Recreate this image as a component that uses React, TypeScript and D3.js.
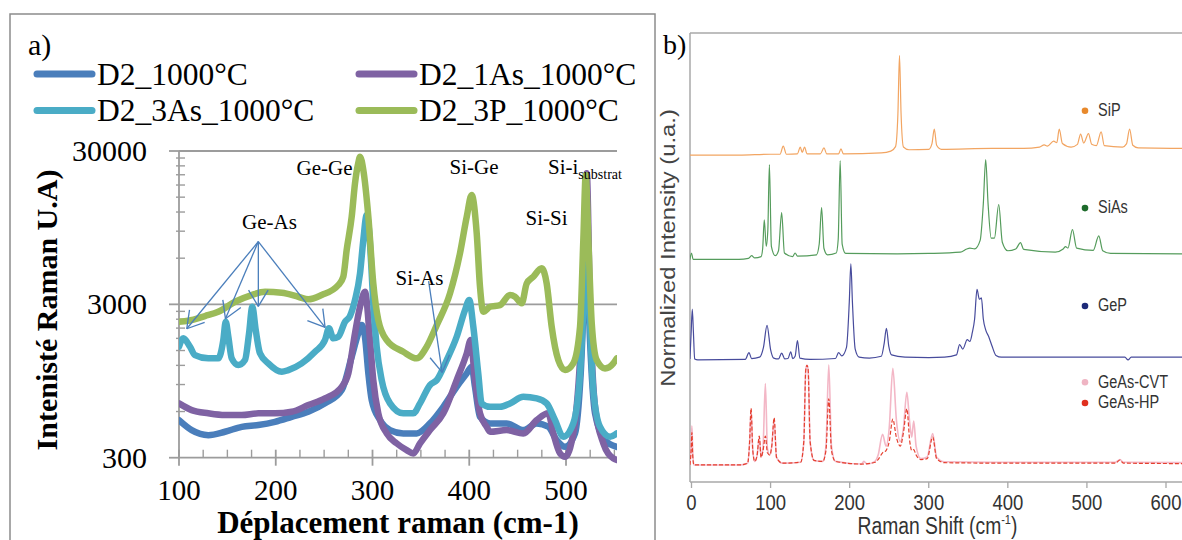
import React from "react";
import * as d3 from "d3";

const W = 1182;
const H = 540;

// ---------- Panel a data: [Raman shift (cm-1), intensity (U.A)] ----------
const seriesNamesA = ["D2_1000°C", "D2_1As_1000°C", "D2_3As_1000°C", "D2_3P_1000°C"];
const seriesColorsA = ["#4a7ebb", "#7f62a3", "#4aacc6", "#9bbb59"];

const d2_1000: [number, number][] = [
  [100, 527], [113.1, 454], [130.3, 421], [147.5, 443], [164.8, 477], [182, 490], [199.2, 514],
  [216.5, 554], [233.6, 598], [250.9, 678], [268.2, 828], [278.5, 1366], [285.3, 1941], [288.8, 2198],
  [292.2, 1844], [295.7, 1064], [299.2, 712], [307.8, 527], [318.1, 454], [331.8, 432], [345.7, 432],
  [359.4, 502], [373.2, 644], [387, 870], [397.4, 1064], [402.5, 1175], [405.9, 870], [411.1, 554],
  [421.5, 502], [438.7, 502], [455.9, 454], [469.7, 502], [481.7, 477], [490.4, 391], [499, 353],
  [509.3, 432], [515.2, 1064], [519.7, 4778], [521.4, 6790], [524.8, 1755], [530, 584], [540.3, 391],
  [552.4, 353],
];

const d2_1As: [number, number][] = [
  [100, 678], [113.1, 613], [130.3, 584], [147.5, 569], [164.8, 569], [182, 584], [199.2, 584],
  [216.5, 598], [233.6, 661], [250.9, 731], [268.2, 870], [275, 1064], [281.9, 1941], [287.1, 2893],
  [292.2, 3625], [297.4, 1755], [300.8, 962], [306, 584], [314.7, 432], [325, 372], [335.3, 336],
  [342.2, 320], [349.1, 372], [359.4, 454], [373.2, 584], [387, 962], [397.4, 1437], [401.5, 1755],
  [405.9, 962], [411.1, 584], [418, 477], [421.5, 443], [438.7, 454], [455.9, 432], [469.7, 527],
  [481.7, 584], [486.9, 432], [493.8, 320], [499, 304], [507.5, 432], [514.5, 1300], [518.6, 4778],
  [521.4, 21500], [524.8, 2893], [530, 644], [538.6, 372], [548.9, 297], [552.4, 290],
];

const d2_3As: [number, number][] = [
  [100, 1587], [104.4, 1800], [111.4, 1587], [116.5, 1401], [130.3, 1333], [140.6, 1333], [145.8, 1755],
  [148.3, 2310], [151, 1844], [154.5, 1333], [161.3, 1206], [168.2, 1300], [172.4, 1941], [175.8, 2893],
  [179.3, 2040], [183.7, 1437], [192.3, 1237], [206.2, 1090], [213, 1118], [226.8, 1237], [240.6, 1472],
  [250.9, 1755], [255, 2092], [259.5, 1800], [264.7, 1844], [271.6, 2310], [276.7, 2517], [281.9, 3200],
  [287.1, 4778], [290.5, 7880], [294, 11470], [296.5, 9000], [299, 5000], [301, 2893], [304.3, 1587],
  [309.5, 962], [318.1, 678], [331.8, 584], [342.2, 584], [349.1, 678], [359.4, 893], [366.4, 962],
  [376.7, 1300], [387, 1844], [395.6, 2754], [400, 3200], [404.2, 2143], [409.3, 1064], [412.8, 678],
  [421.5, 644], [431.8, 644], [442.1, 678], [455.9, 749], [469.7, 731], [480, 678], [488.6, 528],
  [497.2, 411], [507.5, 502], [514.5, 1064], [518.9, 3719], [521.4, 7125], [524.1, 2893], [528.2, 828],
  [535.1, 477], [545.5, 411], [552.4, 432],
];

const d2_3P: [number, number][] = [
  [100, 2310], [109.6, 2345], [126.9, 2517], [140.6, 2684], [157.9, 3119], [175.1, 3450], [188.9, 3625],
  [206.2, 3571], [223.3, 3363], [233.6, 3233], [247.5, 3450], [264.7, 4009], [269.8, 4541], [273.3, 6781],
  [278.5, 11180], [281.9, 18470], [285.3, 25050], [287.1, 27540], [290.5, 22560], [295.7, 11180],
  [300.8, 4113], [306, 2370], [314.7, 1755], [331.8, 1472], [345.7, 1333], [356, 1587], [366.4, 2198],
  [380.1, 3538], [390.4, 6454], [397.4, 11180], [402.5, 15490], [407.7, 8714], [411.1, 3908],
  [414.5, 2684], [421.5, 2893], [431.8, 2968], [442.1, 3450], [447.3, 3363], [454.2, 3045], [459.4, 4113],
  [466.2, 4541], [474.9, 5151], [480, 4113], [485.2, 2143], [492, 1300], [499, 1118], [507.5, 1237],
  [514.5, 2143], [517.9, 7880], [520.4, 20920], [523.1, 7880], [526.6, 2255], [531.7, 1300],
  [540.3, 1147], [548.9, 1237], [552.4, 1333],
];

const seriesA = [d2_1000, d2_1As, d2_3As, d2_3P];

const yMajorTicksA = [300, 3000, 30000];
const yMinorTicksA = [600, 900, 1200, 1500, 1800, 2100, 2400, 2700, 6000, 9000, 12000, 15000, 18000, 21000, 24000, 27000];
const xMajorTicksA = [100, 200, 300, 400, 500];
const xMinorTicksA = [125, 150, 175, 225, 250, 275, 325, 350, 375, 425, 450, 475, 525, 550];

// ---------- Panel b data: [Raman shift (cm-1), normalized intensity (offset)] ----------
const seriesNamesB = ["SiP", "SiAs", "GeP", "GeAs-CVT", "GeAs-HP"];
const lineColorsB = ["#f2a562", "#559c5c", "#474b9c", "#f3b7c6", "#e5402f"];
const dotColorsB = ["#e8892c", "#1d6b2b", "#1d2a78", "#efb4c3", "#e0301f"];

const siP: [number, number][] = [
  [-2, 72.8], [60, 72.8], [100, 73.0], [112, 73.0], [116, 74.8], [120, 73.0], [134, 73.1], [137.5, 74.6],
  [140, 73.4], [143, 74.6], [146, 73.1], [163, 73.1], [167.5, 74.4], [171, 73.1], [186, 73.1], [189, 74.2],
  [192, 73.1], [240, 73.3], [252, 73.7], [258, 74.7], [261, 82], [263, 95.0], [265, 82], [268, 74.6],
  [275, 74.0], [300, 74.1], [304, 75.3], [307, 78.6], [310, 75.0], [316, 74.1], [380, 74.3], [420, 74.3],
  [440, 74.6], [446, 75.1], [450, 74.8], [458, 75.9], [462, 75.6], [465, 78.6], [469, 75.4], [480, 74.6],
  [488, 75.2], [492, 77.5], [496, 75.5], [502, 77.6], [506, 75.2], [512, 74.9], [518, 78.0], [522, 74.9],
  [545, 74.6], [550, 75.3], [554, 78.6], [558, 75.0], [565, 74.4], [625, 74.3],
];

const siAs: [number, number][] = [
  [-2, 49.5], [0, 51.0], [2, 49.6], [60, 49.6], [72, 49.8], [76, 50.4], [80, 49.9], [88, 50.2], [90, 52],
  [92, 58.4], [94.5, 52.5], [96.5, 56], [98.5, 70.7], [101, 52.5], [106, 50.4], [110, 51.5], [114, 60.0],
  [117.5, 51.0], [128, 50.2], [131, 51.0], [134, 50.3], [158, 50.6], [161.5, 53], [164.5, 61.1],
  [167.5, 52], [172, 50.6], [183, 51.0], [185.5, 54], [188, 71.6], [190.5, 53], [195, 50.9], [260, 50.8],
  [300, 50.9], [340, 51.2], [348, 51.9], [352, 52.1], [358, 51.9], [365, 53.8], [369, 62], [372, 71.8],
  [375, 62], [379, 54.3], [383, 54.3], [388.5, 61.8], [393, 53.4], [400, 51.5], [410, 51.9], [416, 53.3],
  [420, 51.8], [460, 51.2], [470, 51.9], [473, 52.4], [476, 52.1], [481.7, 56.2], [487, 52.1], [508, 51.6],
  [515, 54.8], [520, 51.5], [530, 50.9], [625, 50.8],
];

const geP: [number, number][] = [
  [-2, 27.4], [-0.5, 33], [1, 38.5], [2.5, 33], [4, 27.4], [8, 27.2], [68, 27.3], [72.7, 28.8], [76, 27.5],
  [86, 27.8], [91, 30], [95.5, 34.9], [100, 29.5], [104, 27.6], [110, 27.4], [114, 28.7], [118, 27.4],
  [122, 27.5], [125.5, 29], [128, 27.5], [131, 28], [134, 31.5], [137, 27.6], [150, 27.3], [182, 27.5],
  [186, 28.8], [190, 28.1], [196, 30], [199.5, 40], [201.5, 48.6], [203.5, 40], [207, 29.6], [212, 27.8],
  [225, 27.6], [240, 28.0], [243.5, 30.7], [246.5, 34.2], [249.5, 30.2], [253, 28.3], [270, 27.8], [300, 27.7],
  [320, 27.8], [335, 28.3], [339, 30.6], [343, 29.6], [348.7, 31.7], [352, 31.3], [355, 33.2], [358, 36.3],
  [361, 42.9], [364, 40.7], [366.6, 41.0], [369, 36.3], [372, 33.9], [376, 32.3], [380, 30.3], [385, 28.2],
  [392, 27.8], [450, 27.8], [548, 27.8], [552, 27.2], [556, 27.8], [625, 27.8],
];

const geAsCVT: [number, number][] = [
  [-2, 3.8], [-0.5, 8], [0.5, 12.5], [1.5, 7], [3, 3.8], [60, 3.8], [71, 4.2], [73.5, 9], [75.3, 16.0],
  [77.5, 7], [80, 4.6], [83, 6], [85.7, 10], [88, 5.5], [90.5, 8], [93.4, 21.9], [96, 7.5], [99, 6],
  [101.5, 8], [104.5, 13.8], [107.5, 5.5], [115, 4.2], [138, 4.4], [142, 9], [144.5, 25], [146, 26],
  [147.5, 25], [150, 9], [155, 4.8], [166, 4.6], [170, 8], [173.6, 26.1], [177, 8], [182, 4.6], [215, 4.0],
  [218, 4.6], [222, 4.0], [232, 4.6], [236, 6], [241.6, 10.6], [246, 8], [250, 12], [254.6, 25.3],
  [259, 14], [264, 9], [268, 12], [272.3, 20.0], [276, 13], [278.5, 10], [281, 13.6], [284, 8], [290, 5.2],
  [298, 5.6], [305, 10.8], [310, 5.5], [320, 4.5], [400, 4.4], [536, 4.4], [541.8, 5.0], [546, 4.4],
  [625, 4.3],
];

const geAsHP: [number, number][] = [
  [-2, 3.8], [-0.5, 7], [0.5, 11], [1.5, 6], [3, 3.8], [60, 3.8], [71, 4.2], [73.5, 9], [75.3, 16.4],
  [77.5, 7], [80, 4.6], [83, 6], [85.7, 10.2], [88, 5.5], [90.5, 7], [93.4, 10.2], [96, 6.5], [99, 6],
  [101.5, 8], [104.5, 14.3], [107.5, 5.5], [115, 4.2], [138, 4.4], [142, 9], [144.5, 25], [146, 26],
  [147.5, 25], [150, 9], [155, 4.8], [166, 4.6], [170, 7], [173.6, 18.5], [177, 7], [182, 4.6], [215, 4.0],
  [232, 4.4], [236, 5], [241.6, 6.5], [246, 7], [250, 9], [254.6, 14.0], [259, 10], [264, 8], [268, 11],
  [272.3, 16.3], [276, 9], [278.5, 7], [281, 7.2], [284, 6], [290, 5], [298, 5.2], [305, 10.0], [310, 5.2],
  [320, 4.3], [400, 4.2], [536, 4.2], [541.8, 4.9], [546, 4.2], [625, 4.1],
];

const seriesB = [siP, siAs, geP, geAsCVT, geAsHP];
const legendYB = [82.7, 61.0, 39.2, 22.2, 17.6]; // legend dot heights (intensity units)
const xTicksB = [0, 100, 200, 300, 400, 500, 600];

// ---------- Annotations (panel a) ----------
const arrowsGeAs: [number, number][] = [
  [108, 2080], [148, 2420], [182, 2910], [251, 2120],
];
const arrowOriginGeAs: [number, number] = [182, 7700];
const arrowSiAs: [[number, number], [number, number]] = [[358, 4250], [372, 1080]];

export default function App() {
  // panel a scales
  const xa = d3.scaleLinear().domain([100, 552.7]).range([179, 617]);
  const ya = d3.scaleLog().domain([300, 30000]).range([457.7, 151]);
  const lineA = d3
    .line<[number, number]>()
    .x((d) => xa(d[0]))
    .y((d) => ya(d[1]))
    .curve(d3.curveMonotoneX);

  // panel b scales
  const xb = d3.scaleLinear().domain([0, 600]).range([691.5, 1166]);
  const yb = d3.scaleLinear().domain([0, 100]).range([482, 33]);
  const lineB = d3
    .line<[number, number]>()
    .x((d) => xb(d[0]))
    .y((d) => yb(d[1]))
    .curve(d3.curveMonotoneX);

  const serif = "'Liberation Serif', 'Times New Roman', serif";
  const sans = "'Liberation Sans', Arial, sans-serif";
  const stretchB = 1.22; // panel b is a vertically stretched picture

  const arrowHead = (x0: number, y0: number, x1: number, y1: number, key: string) => {
    const ang = Math.atan2(y0 - y1, x0 - x1);
    const len = 19;
    const spread = (31 * Math.PI) / 180;
    const p1 = [x1 + len * Math.cos(ang + spread), y1 + len * Math.sin(ang + spread)];
    const p2 = [x1 + len * Math.cos(ang - spread), y1 + len * Math.sin(ang - spread)];
    return (
      <g key={key}>
        <line x1={x0} y1={y0} x2={x1} y2={y1} />
        <line x1={x1} y1={y1} x2={p1[0]} y2={p1[1]} />
        <line x1={x1} y1={y1} x2={p2[0]} y2={p2[1]} />
      </g>
    );
  };

  const legendPosA: [number, number][] = [
    [37, 74], [359, 74], [37, 110.5], [359, 110.5],
  ];

  return (
    <div style={{ position: "fixed", left: 0, top: 0, width: W, height: H, background: "#fff" }}>
      <svg width={W} height={H} viewBox={`0 0 ${W} ${H}`} style={{ display: "block" }}>
        <rect x={0} y={0} width={W} height={H} fill="#fff" />
        <defs>
          <clipPath id="clipA">
            <rect x={179} y={140} width={438} height={324} />
          </clipPath>
          <clipPath id="clipB">
            <rect x={690} y={33} width={492} height={449} />
          </clipPath>
        </defs>

        {/* ================= Panel a ================= */}
        <rect x={10} y={14} width={645} height={560} fill="none" stroke="#8c8c8c" strokeWidth={1.5} />
        <text x={28} y={55} fontFamily={serif} fontSize={30} fill="#000">a)</text>

        {/* legend */}
        {seriesNamesA.map((name, i) => {
          const [lx, ly] = legendPosA[i];
          return (
            <g key={name}>
              <line x1={lx} y1={ly} x2={lx + 55} y2={ly} stroke={seriesColorsA[i]} strokeWidth={7} strokeLinecap="round" />
              <text x={lx + 60} y={ly + 10.5} fontFamily={serif} fontSize={31.5} fill="#000">{name}</text>
            </g>
          );
        })}

        {/* gridlines */}
        {[3000, 30000].map((v) => (
          <line key={v} x1={179} x2={617} y1={ya(v)} y2={ya(v)} stroke="#9c9c9c" strokeWidth={1.8} />
        ))}
        {/* axes */}
        <line x1={179} x2={617} y1={ya(300)} y2={ya(300)} stroke="#9c9c9c" strokeWidth={1.8} />
        <line x1={179} x2={179} y1={ya(30000)} y2={ya(300)} stroke="#9c9c9c" strokeWidth={1.8} />
        {yMajorTicksA.map((v) => (
          <g key={v}>
            <line x1={169} x2={179} y1={ya(v)} y2={ya(v)} stroke="#9c9c9c" strokeWidth={1.8} />
            <text x={147} y={ya(v) + 10} textAnchor="end" fontFamily={serif} fontSize={30} fill="#000">{v}</text>
          </g>
        ))}
        {yMinorTicksA.map((v) => (
          <line key={v} x1={176} x2={185} y1={ya(v)} y2={ya(v)} stroke="#9c9c9c" strokeWidth={1.4} />
        ))}
        {xMajorTicksA.map((v) => (
          <g key={v}>
            <line x1={xa(v)} x2={xa(v)} y1={ya(300) - 8} y2={ya(300) + 8} stroke="#9c9c9c" strokeWidth={1.8} />
            <text x={xa(v)} y={500} textAnchor="middle" fontFamily={serif} fontSize={29} fill="#000">{v}</text>
          </g>
        ))}
        {xMinorTicksA.map((v) => (
          <line key={v} x1={xa(v)} x2={xa(v)} y1={ya(300) - 8} y2={ya(300)} stroke="#9c9c9c" strokeWidth={1.4} />
        ))}

        {/* series */}
        <g clipPath="url(#clipA)">
          {seriesA.map((s, i) => (
            <path key={i} d={lineA(s) || ""} fill="none" stroke={seriesColorsA[i]} strokeWidth={6.5} strokeLinejoin="round" strokeLinecap="round" />
          ))}
        </g>

        {/* annotations */}
        <g stroke="#4a7ebb" strokeWidth={1.3} fill="none">
          {arrowsGeAs.map((p, i) =>
            arrowHead(xa(arrowOriginGeAs[0]), ya(arrowOriginGeAs[1]), xa(p[0]), ya(p[1]), "ga" + i)
          )}
          {arrowHead(xa(arrowSiAs[0][0]), ya(arrowSiAs[0][1]), xa(arrowSiAs[1][0]), ya(arrowSiAs[1][1]), "sias")}
        </g>
        <g fontFamily={serif} fontSize={21} fill="#000">
          <text x={324.5} y={175} textAnchor="middle">Ge-Ge</text>
          <text x={474} y={174} textAnchor="middle">Si-Ge</text>
          <text x={548} y={174}>
            Si-i<tspan fontSize={14} dy={5}>substrat</tspan>
          </text>
          <text x={269.5} y={229} textAnchor="middle">Ge-As</text>
          <text x={419.5} y={285} textAnchor="middle">Si-As</text>
          <text x={546.5} y={225} textAnchor="middle">Si-Si</text>
        </g>

        {/* axis titles */}
        <text x={398} y={533} textAnchor="middle" fontFamily={serif} fontWeight="bold" fontSize={31} fill="#000">
          Déplacement raman (cm-1)
        </text>
        <text
          transform="translate(57,310) rotate(-90)"
          textAnchor="middle"
          fontFamily={serif}
          fontWeight="bold"
          fontSize={30}
          fill="#000"
        >
          Intenisté Raman U.A)
        </text>

        {/* ================= Panel b ================= */}
        <text x={663} y={54} fontFamily={serif} fontSize={28} fill="#000">b)</text>
        <line x1={690} x2={1182} y1={33} y2={33} stroke="#a8a8a8" strokeWidth={1.5} />
        <line x1={690} x2={690} y1={33} y2={482} stroke="#a8a8a8" strokeWidth={1.5} />
        <line x1={690} x2={1182} y1={482} y2={482} stroke="#a8a8a8" strokeWidth={1.5} />
        {xTicksB.map((v) => (
          <g key={v}>
            <line x1={xb(v)} x2={xb(v)} y1={482} y2={488} stroke="#a8a8a8" strokeWidth={1.3} />
            <text
              transform={`translate(${xb(v)},509.5) scale(1,${stretchB})`}
              textAnchor="middle"
              fontFamily={sans}
              fontSize={18.5}
              fill="#333"
            >
              {v}
            </text>
          </g>
        ))}
        <g clipPath="url(#clipB)">
          {seriesB.map((s, i) => (
            <path
              key={i}
              d={lineB(s) || ""}
              fill="none"
              stroke={lineColorsB[i]}
              strokeWidth={i === 3 ? 1.6 : 1.2}
              strokeDasharray={i === 4 ? "4 2" : undefined}
            />
          ))}
        </g>
        {seriesNamesB.map((name, i) => (
          <g key={name}>
            <circle cx={1085} cy={yb(legendYB[i])} r={3.3} fill={dotColorsB[i]} />
            <text
              transform={`translate(1098,${yb(legendYB[i]) + 5.2}) scale(1,${stretchB})`}
              fontFamily={sans}
              fontSize={14.5}
              fill="#333"
            >
              {name}
            </text>
          </g>
        ))}
        <text
          transform={`translate(937.5,534) scale(1,${stretchB})`}
          textAnchor="middle"
          fontFamily={sans}
          fontSize={19.3}
          fill="#333"
        >
          Raman Shift  (cm<tspan fontSize={11} dy={-8}>-1</tspan><tspan dy={8}>)</tspan>
        </text>
        <text
          transform={`translate(675,248) scale(1,${stretchB}) rotate(-90)`}
          textAnchor="middle"
          fontFamily={sans}
          fontSize={19.5}
          fill="#444"
        >
          Normalized Intensity (u.a.)
        </text>
      </svg>
    </div>
  );
}
